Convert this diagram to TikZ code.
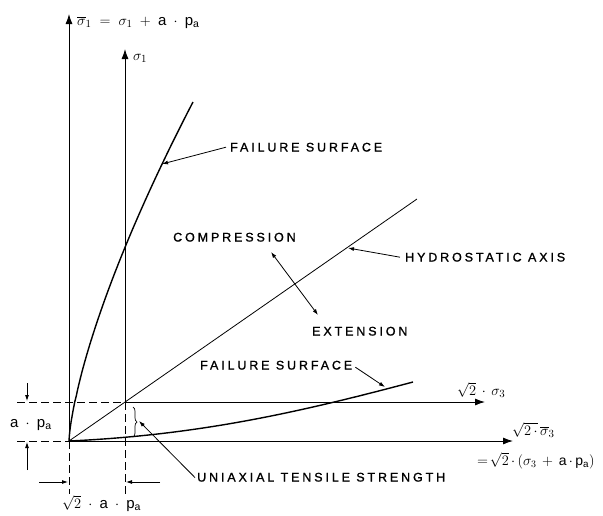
\documentclass[tikz,border=0pt]{standalone}
\usepackage{amsmath}
\usepackage{fontspec}
\setmainfont{Liberation Sans}
\usetikzlibrary{arrows.meta,decorations.pathreplacing}
\begin{document}
\begin{tikzpicture}[x=1pt,y=-1pt,
  axis/.style={line width=0.9pt,-{Latex[length=10pt,width=7pt]}},
  dashline/.style={line width=0.9pt,dash pattern=on 8pt off 4pt},
  curve/.style={line width=1.4pt},
  thin/.style={line width=0.8pt},
  leader/.style={line width=0.8pt,-{Latex[length=6pt,width=4pt]}},
  dimarrow/.style={line width=0.8pt,-{Latex[length=6pt,width=4pt]}},
  lbl/.style={font=\fontsize{12.5}{14}\selectfont\addfontfeature{LetterSpace=23,FakeBold=1.2},inner sep=0pt,anchor=base west},
  mlbl/.style={font=\fontsize{15}{17}\selectfont,inner sep=0pt,anchor=base west}]
\useasboundingbox (0,0) rectangle (603,515);
% key points
\coordinate (O) at (69,441);
\coordinate (P) at (125,402);
\coordinate (Y1) at (69,14);
\coordinate (Y2) at (125,49);
\coordinate (X1) at (513,441);
\coordinate (X2) at (485,402);
\coordinate (H) at (417,199);
% axes
\draw[axis] (O) -- (Y1);
\draw[axis] (P) -- (Y2);
\draw[axis] (O) -- (X1);
\draw[axis] (P) -- (X2);
% dashed extensions
\coordinate (DL1) at (17,402);
\coordinate (DL2) at (17,441);
\coordinate (DB1) at (69,494);
\coordinate (DB2) at (125,494);
\draw[dashline] (DL1) -- (P);
\draw[dashline] (DL2) -- (O);
\draw[dashline] (O) -- (DB1);
\draw[dashline] (P) -- (DB2);
% hydrostatic axis
\draw[thin] (O) -- (H);
% failure surfaces
\coordinate (FU) at (193,102);
\coordinate (FL) at (413,382);
\draw[curve] (O) -- plot[domain=0.5:339,samples=70] ({69+124*(\x/339)^1.42},{441-\x});
\draw[curve] (O) .. controls (200,435) and (300,412) .. (FL);
% labels
\node[mlbl] (ly1) at (77,25) {$\overline{\sigma}_{1}\;=\;\sigma_{1}\;+\;\mathrm{a}\;\cdot\;\mathrm{p}_{\mathrm{a}}$};
\node[mlbl] (ly2) at (133,60) {$\sigma_{1}$};
\node[mlbl] (lx2) at (457,395) {$\sqrt{2}\,\cdot\,\sigma_{3}$};
\node[mlbl] (lx1) at (512,435) {$\sqrt{2\,\cdot}\,\overline{\sigma}_{3}$};
\node[mlbl,font=\fontsize{14}{16}\selectfont] (lx1b) at (477,465) {$=\!\sqrt{2}\,{\cdot}\,(\sigma_{3}\,+\,\mathrm{a}\,{\cdot}\,\mathrm{p}_{\mathrm{a}})$};
\node[mlbl] (lap) at (10,427) {$\mathrm{a}\;\cdot\;\mathrm{p}_{\mathrm{a}}$};
\node[mlbl] (lsap) at (62,508) {$\sqrt{2}\;\cdot\;\mathrm{a}\;\cdot\;\mathrm{p}_{\mathrm{a}}$};
\node[lbl] (fsu) at (230,151.5) {FAILURE SURFACE};
\node[lbl] (comp) at (173,241.5) {COMPRESSION};
\node[lbl] (hyd) at (405,261.5) {HYDROSTATIC AXIS};
\node[lbl] (ext) at (312,335.5) {EXTENSION};
\node[lbl] (fsl) at (200,369.5) {FAILURE SURFACE};
\node[lbl] (uts) at (197,481.5) {UNIAXIAL TENSILE STRENGTH};
% leaders
\coordinate (tfsu) at (162,164);
\coordinate (thyd) at (348,248);
\coordinate (tfsl) at (385,387);
\coordinate (tuts) at (139,421);
\draw[leader] ([xshift=-4pt]fsu.west) -- (tfsu);
\draw[leader] ([xshift=-5pt]hyd.west) -- (thyd);
\draw[leader] ([xshift=3pt,yshift=-2pt]fsl.east) -- (tfsl);
\draw[leader] ([xshift=-2pt,yshift=-5pt]uts.north west) -- (tuts);
% compression/extension double arrow
\coordinate (ca) at (271,252);
\coordinate (ea) at (318,315);
\draw[line width=0.8pt,{Latex[length=6pt,width=4pt]}-{Latex[length=6pt,width=4pt]}] (ca) -- (ea);
% brace
\coordinate (b1) at (133,407);
\coordinate (b2) at (133,437);
\draw[line width=0.7pt,decorate,decoration={brace,amplitude=4pt}] (b1) -- (b2);
% dimension arrows
\coordinate (va1) at (27,383);
\coordinate (va1e) at (27,401);
\coordinate (va2) at (27,470);
\coordinate (va2e) at (27,442);
\coordinate (ha1) at (39,482);
\coordinate (ha1e) at (68,482);
\coordinate (ha2) at (160,482);
\coordinate (ha2e) at (126,482);
\draw[dimarrow] (va1) -- (va1e);
\draw[dimarrow] (va2) -- (va2e);
\draw[dimarrow] (ha1) -- (ha1e);
\draw[dimarrow] (ha2) -- (ha2e);
\end{tikzpicture}
\end{document}
